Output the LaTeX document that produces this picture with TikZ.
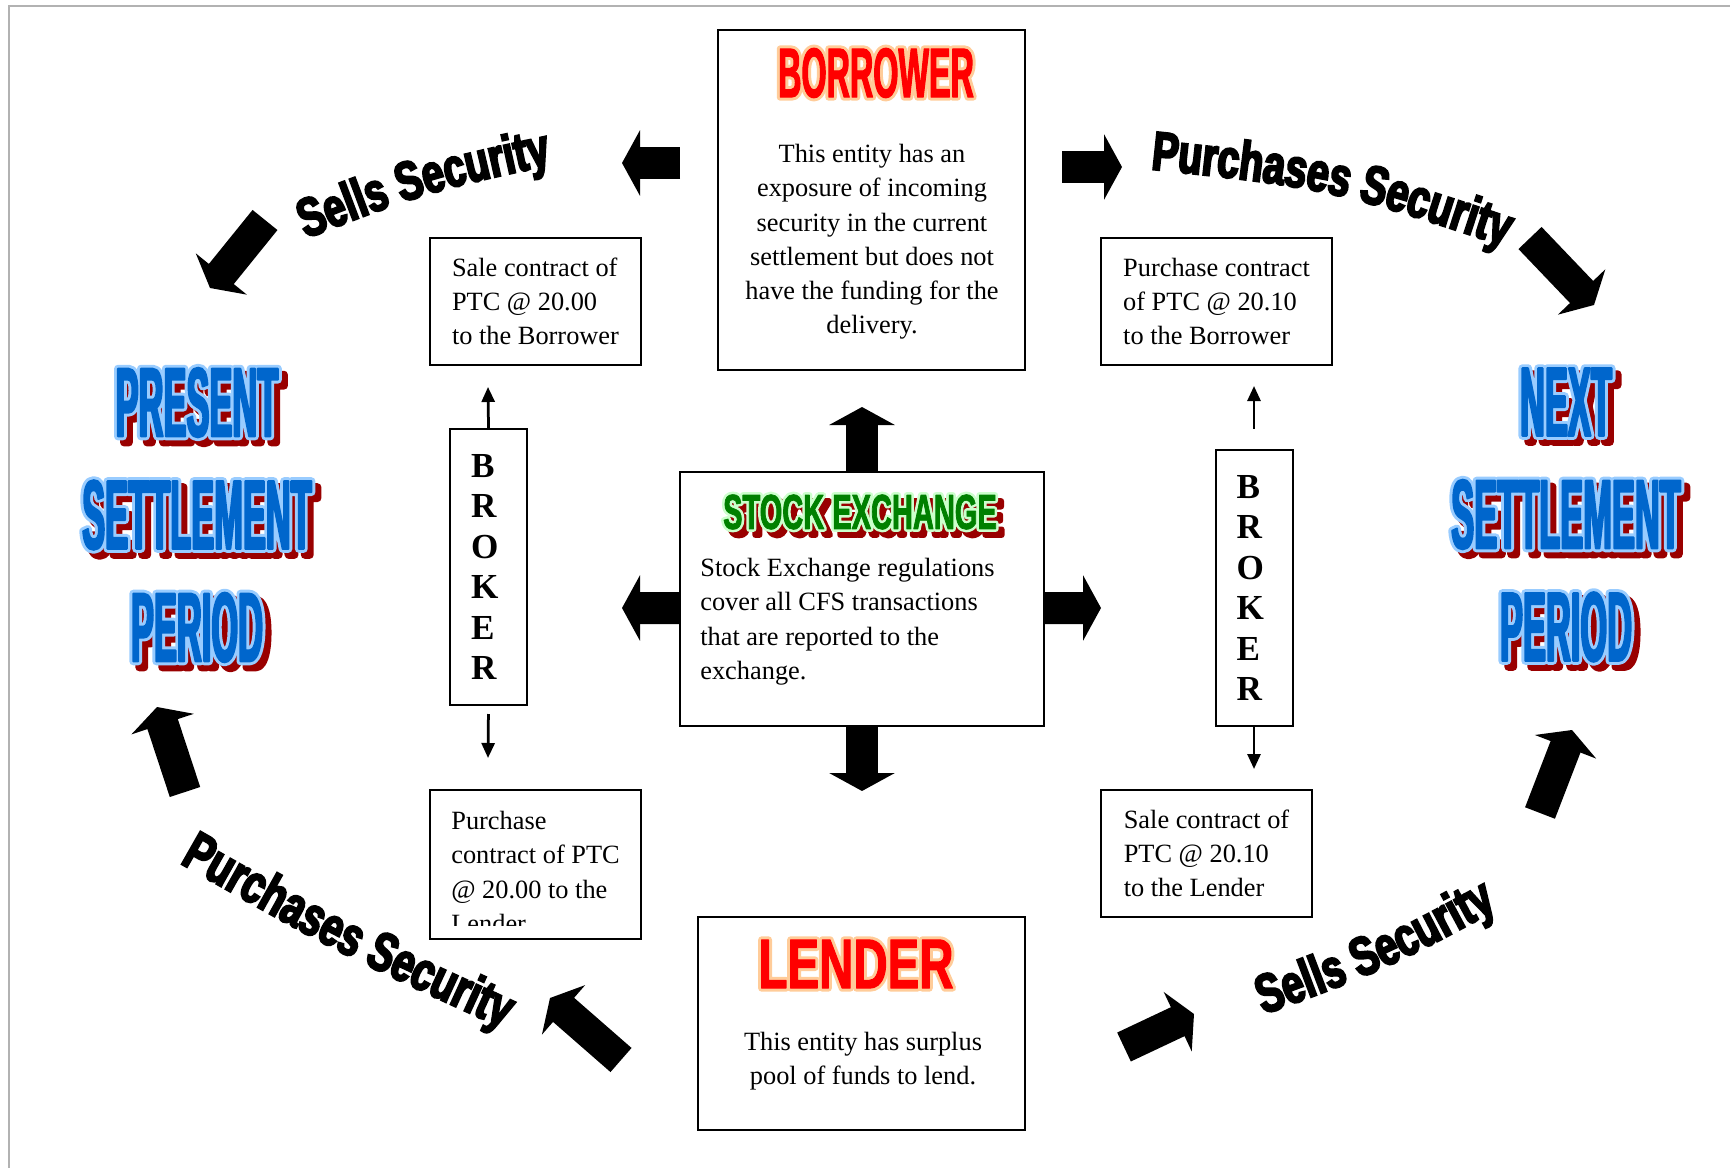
\documentclass[tikz,border=0pt]{standalone}
\usepackage{fontspec}
\setmainfont{Liberation Serif}
\newfontfamily\borrowerfill{Liberation Sans Bold}[FakeStretch=0.46,FakeBold=1.5]
\newfontfamily\borrowerline{Liberation Sans Bold}[FakeStretch=0.46,FakeBold=10]
\newfontfamily\lenderfill{Liberation Sans Bold}[FakeStretch=0.675,FakeBold=1.5]
\newfontfamily\lenderline{Liberation Sans Bold}[FakeStretch=0.675,FakeBold=10]
\newfontfamily\exchangefill{Liberation Sans Bold}[FakeStretch=0.59,FakeBold=1.5]
\newfontfamily\exchangeline{Liberation Sans Bold}[FakeStretch=0.59,FakeBold=12]
\newfontfamily\periodfill{Liberation Sans Bold}[FakeStretch=0.35,FakeBold=2]
\newfontfamily\periodline{Liberation Sans Bold}[FakeStretch=0.35,FakeBold=8]
\newfontfamily\curvefont{Liberation Sans Bold}[FakeStretch=0.72,FakeBold=4]
\usetikzlibrary{arrows.meta,decorations.text}

\definecolor{titlered}{HTML}{FF0000}
\definecolor{titlepeach}{HTML}{FFCC99}
\definecolor{exgreen}{HTML}{008000}
\definecolor{exlight}{HTML}{CCFFCC}
\definecolor{periodblue}{HTML}{0066CC}
\definecolor{periodlight}{HTML}{99CCFF}
\definecolor{shadowred}{HTML}{990000}

% #1 fill font, #2 outline font, #3 fill colour, #4 outline colour, #5 text
\newcommand{\plainart}[5]{\leavevmode\rlap{\textcolor{#4}{#2#5}}\textcolor{#3}{#1#5}}
\newcommand{\shadowart}[5]{\leavevmode\rlap{\hspace{1.2mm}\smash{\raisebox{-1.2mm}{\textcolor{shadowred}{#2#5}}}}\plainart{#1}{#2}{#3}{#4}{#5}}
\newcommand{\periodword}[1]{\shadowart{\periodfill}{\periodline}{periodblue}{periodlight}{#1}}

\begin{document}
\begin{tikzpicture}[x=0.2mm, y=-0.2mm,
	box/.style={draw, line width=0.4mm, inner sep=0pt},
	contract/.style={box, align=left, inner xsep=4.2mm, minimum width=42.2mm, minimum height=25.4mm, font=\fontsize{15}{19.5}\selectfont},
	broker/.style={box, align=left, text width=7mm, inner xsep=4.2mm, minimum height=55.2mm, font=\bfseries\fontsize{20}{23.1}\selectfont},
	bodytext/.style={inner sep=0pt, font=\fontsize{15}{19.5}\selectfont},
	entitytitle/.style={inner sep=0pt, line join=round, font=\fontsize{40}{40}\selectfont},
	periodtitle/.style={inner sep=0pt, line join=round, align=center, font=\fontsize{56}{64}\selectfont},
	blockarrow/.style={line width=6.4mm, -{Triangle[length=3.6mm,width=13mm]}},
	thinarrow/.style={line width=0.55mm, -{Triangle[length=3mm,width=2.6mm]}},
	curvetext/.style={line join=round, decorate, decoration={text along path, text align=center, text={|\curvefont\fontsize{31}{31}\selectfont|#1}}}]
	\useasboundingbox (0,0) rectangle (1730,1168);
	\draw[black!30, line width=0.3mm] (9,1168) -- (9,6) -- (1730,6);
	
	% entities
	\node[box, minimum width=61.4mm, minimum height=68mm] (borrower) at (871.5,200) {};
	\node[entitytitle] (borrowertitle) at (876,73) {\plainart{\borrowerfill}{\borrowerline}{titlered}{titlepeach}{BORROWER}};
	\node[bodytext, align=center, anchor=north] (borrowertext) at (872,144) {This entity has an\\exposure of incoming\\security in the current\\settlement but does not\\have the funding for the\\delivery.};
	
	\node[box, minimum width=72.8mm, minimum height=50.8mm] (exchange) at (862,599) {};
	\node[entitytitle, font=\fontsize{28}{28}\selectfont] (exchangetitle) at (860,512) {\shadowart{\exchangefill}{\exchangeline}{exgreen}{exlight}{STOCK EXCHANGE}};
	\node[bodytext, align=left, anchor=north west] (exchangetext) at (700,558) {Stock Exchange regulations\\cover all CFS transactions\\that are reported to the\\exchange.};
	
	\node[box, minimum width=65.4mm, minimum height=42.6mm] (lender) at (861.5,1023.5) {};
	\node[entitytitle] (lendertitle) at (856,964) {\plainart{\lenderfill}{\lenderline}{titlered}{titlepeach}{LENDER}};
	\node[bodytext, align=center, anchor=north] (lendertext) at (863,1032) {This entity has surplus\\pool of funds to lend.};
	
	% settlement periods
	\node[periodtitle] (present) at (197,515) {\periodword{PRESENT}\\\periodword{SETTLEMENT}\\\periodword{PERIOD}};
	\node[periodtitle] (next) at (1566,515) {\periodword{NEXT}\\\periodword{SETTLEMENT}\\\periodword{PERIOD}};
	
	% brokers and contracts
	\node[broker] (leftbroker) at (488.5,567) {B\\R\\O\\K\\E\\R};
	\node[broker] (rightbroker) at (1254,588) {B\\R\\O\\K\\E\\R};
	\node[contract] (saleborrower) at (535.5,301.5) {Sale contract of\\PTC @ 20.00\\to the Borrower};
	\node[contract, minimum width=46.2mm] (buyborrower) at (1216.5,301.5) {Purchase contract\\of PTC @ 20.10\\to the Borrower};
	\node[contract] (salelender) at (1206.5,853.5) {Sale contract of\\PTC @ 20.10\\to the Lender};
	\node[box, minimum width=42.2mm, minimum height=29.8mm] (buylender) at (535.5,864.5) {};
	\begin{scope}
		\clip (buylender.north west) rectangle ([yshift=3mm]buylender.south east);
		\node[bodytext, align=left, anchor=north west] (buylendertext) at (451,811) {Purchase\\contract of PTC\\@ 20.00 to the\\Lender};
	\end{scope}
	
	\coordinate (leftup) at (488,387);
	\coordinate (leftdown) at (488,758);
	\coordinate (rightup) at (1254,386);
	\coordinate (rightdown) at (1254,769);
	\draw[thinarrow] (leftbroker.north) -- (leftup);
	\draw[thinarrow, shorten <=1.6mm] (leftbroker.south) -- (leftdown);
	\draw[thinarrow, shorten <=4mm] (rightbroker.north) -- (rightup);
	\draw[thinarrow] (rightbroker.south) -- (rightdown);
	
	% block arrows
	\coordinate (exup) at (862,407);
	\coordinate (exdown) at (862,791);
	\coordinate (exleft) at (622,608);
	\coordinate (exright) at (1101,608);
	\draw[blockarrow] (exchange.north) -- (exup);
	\draw[blockarrow] (exchange.south) -- (exdown);
	\draw[blockarrow] ([yshift=-1.8mm]exchange.west) -- (exleft);
	\draw[blockarrow] ([yshift=-1.8mm]exchange.east) -- (exright);
	
	\coordinate (sellstail) at (680,163);
	\coordinate (sellstip) at (622,163);
	\coordinate (buystail) at (1062,167);
	\coordinate (buystip) at (1122,167);
	\coordinate (nwtail) at (265,220);
	\coordinate (nwtip) at (210,288);
	\coordinate (netail) at (1530,238);
	\coordinate (netip) at (1594,305);
	\coordinate (swtail) at (185,792);
	\coordinate (swtip) at (157,707);
	\coordinate (setail) at (1540,813);
	\coordinate (setip) at (1572,730);
	\coordinate (lendlefttail) at (621,1060);
	\coordinate (lendlefttip) at (550,998);
	\coordinate (lendrighttail) at (1124,1047);
	\coordinate (lendrighttip) at (1194,1014);
	\draw[blockarrow] (sellstail) -- (sellstip);
	\draw[blockarrow] (buystail) -- (buystip);
	\draw[blockarrow] (nwtail) -- (nwtip);
	\draw[blockarrow] (netail) -- (netip);
	\draw[blockarrow] (swtail) -- (swtip);
	\draw[blockarrow] (setail) -- (setip);
	\draw[blockarrow] (lendlefttail) -- (lendlefttip);
	\draw[blockarrow] (lendrighttail) -- (lendrighttip);
	
	% curved labels
	\path[curvetext={Sells Security}] (267,254) .. controls (426,191) .. (593,156);
	\path[curvetext={Purchases Security}] (1130,167) .. controls (1330,188) .. (1525,253);
	\path[curvetext={Purchases Security}] (164,854) .. controls (338,953) .. (520,1036);
	\path[curvetext={Sells Security}] (1215,1032) .. controls (1387,970) .. (1543,884);
\end{tikzpicture}
\end{document}
